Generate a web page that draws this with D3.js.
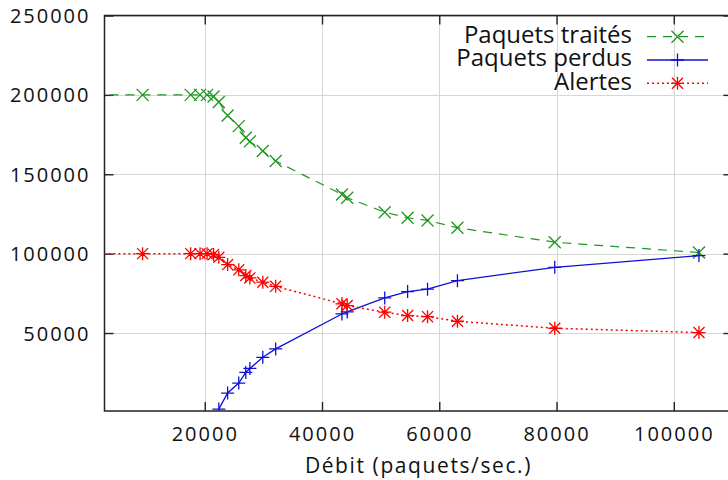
<!DOCTYPE html>
<html>
<head>
<meta charset="utf-8">
<script src="https://cdn.jsdelivr.net/npm/d3@7"></script>
<style>
  html, body { margin: 0; padding: 0; background: #fff; }
  svg { display: block; }
  text { font-family: "Open Sans", "DejaVu Sans", sans-serif; fill: #111; }
</style>
</head>
<body>
<svg id="chart" width="728" height="480"></svg>
<script>
// ---- data ----
const xTicks = [20000, 40000, 60000, 80000, 100000];
const yTicks = [50000, 100000, 150000, 200000, 250000];

const debit = [1000, 9400, 17600, 19200, 20400, 21500, 22400, 23900, 25800, 27000, 27700,
               29900, 32100, 43400, 44300, 50700, 54600, 58000, 63100, 79700, 104300];
const traites = [200000, 200000, 200000, 200000, 200000, 199000, 195500, 187000, 180300, 173000, 170700,
                 164600, 158300, 137300, 135200, 126100, 122600, 120900, 116300, 107200, 100700];
const alertes = [100000, 100000, 100000, 100000, 100000, 99500, 97700, 93100, 89800, 86200, 84700,
                 82000, 79400, 68400, 67300, 63100, 61000, 60300, 57400, 53000, 50300];

const debitPerdus = [22400, 23900, 25800, 27000, 27700, 29900, 32100, 43400, 44300,
                     50700, 54600, 58000, 63100, 79700, 104300];
const perdus = [2100, 12200, 18500, 25200, 27700, 34700, 40000, 62000, 63300,
                72100, 76100, 77600, 83000, 91400, 98800];

const seriesNames = ["Paquets traités", "Paquets perdus", "Alertes"];
const xTitle = "Débit (paquets/sec.)";

// ---- layout ----
const svg = d3.select("#chart");
const L = 104.5, R = 732.4, T = 15.5, B = 411;
const x = d3.scaleLinear().domain([2900, 110000]).range([L, R]);
const y = d3.scaleLinear().domain([0, 250000]).range([412.4, T]);

const colors = { green: "#1f961f", blue: "#1010d2", red: "#ff0000" };

svg.append("defs").append("clipPath").attr("id", "plotclip")
  .append("rect").attr("x", L).attr("y", T).attr("width", R - L).attr("height", B - T);

// grid
const grid = svg.append("g").attr("stroke", "#d6d6d6").attr("stroke-width", 1);
xTicks.forEach(v => {
  const px = Math.round(x(v)) + 0.5;
  grid.append("line").attr("x1", px).attr("x2", px).attr("y1", T).attr("y2", B);
});
yTicks.forEach(v => {
  const py = Math.round(y(v)) + 0.5;
  grid.append("line").attr("x1", L).attr("x2", R).attr("y1", py).attr("y2", py);
});

// axes via d3
const tickLen = 9;
const axB = svg.append("g").attr("transform", `translate(0,${B})`)
  .call(d3.axisBottom(x).tickValues(xTicks).tickSize(-tickLen).tickPadding(0).tickFormat(d3.format("d")));
const axT = svg.append("g").attr("transform", `translate(0,${T})`)
  .call(d3.axisTop(x).tickValues(xTicks).tickSize(-tickLen).tickFormat(""));
const axL = svg.append("g").attr("transform", `translate(${L},0)`)
  .call(d3.axisLeft(y).tickValues(yTicks).tickSize(-tickLen).tickFormat(d3.format("d")));
const axR = svg.append("g").attr("transform", `translate(${R},0)`)
  .call(d3.axisRight(y).tickValues(yTicks).tickSize(-tickLen).tickFormat(""));
[axB, axT, axL, axR].forEach(a => {
  a.select(".domain").remove();
  a.selectAll(".tick line").attr("stroke", "#222").attr("stroke-width", 1.4);
});
axB.selectAll(".tick text")
  .attr("y", 30).attr("dy", null)
  .style("font-family", '"Open Sans", sans-serif').style("font-size", "20px")
  .style("letter-spacing", "2px").attr("fill", "#111");
axL.selectAll(".tick text")
  .attr("x", -14).attr("dy", "7px")
  .style("font-family", '"Open Sans", sans-serif').style("font-size", "20px")
  .style("letter-spacing", "2px").attr("fill", "#111");

// frame
svg.append("rect").attr("x", L).attr("y", T).attr("width", R - L).attr("height", B - T)
  .attr("fill", "none").attr("stroke", "#222").attr("stroke-width", 1.5);

// marker paths
function markX(s) { return `M${-s},${-s}L${s},${s}M${-s},${s}L${s},${-s}`; }
function markPlus(s) { return `M${-s},0L${s},0M0,${-s}L0,${s}`; }
function markStar(s) { return markX(s * 0.85) + markPlus(s); }

const plot = svg.append("g").attr("clip-path", "url(#plotclip)");

function drawSeries(xs, ys, color, dash, width, marker) {
  const pts = xs.map((d, i) => [d, ys[i]]);
  const line = d3.line().x(d => x(d[0])).y(d => y(d[1]));
  plot.append("path").datum(pts).attr("d", line)
    .attr("fill", "none").attr("stroke", color).attr("stroke-width", width)
    .attr("stroke-dasharray", dash);
  plot.selectAll(null).data(pts).enter().append("path")
    .attr("transform", d => `translate(${x(d[0])},${y(d[1])})`)
    .attr("d", marker).attr("fill", "none").attr("stroke", color).attr("stroke-width", 1.3);
}

drawSeries(debit, traites, colors.green, "9,7", 1.2, markX(6));
drawSeries(debitPerdus, perdus, colors.blue, null, 1.3, markPlus(6.5));
drawSeries(debit, alertes, colors.red, "2,3", 1.5, markStar(6.5));

// legend
const legend = svg.append("g");
const legendRows = [
  { name: seriesNames[0], color: colors.green, dash: "9,7", w: 1.2, mark: markX(6) },
  { name: seriesNames[1], color: colors.blue, dash: null, w: 1.3, mark: markPlus(6.5) },
  { name: seriesNames[2], color: colors.red, dash: "2,3", w: 1.5, mark: markStar(6.5) }
];
legendRows.forEach((r, i) => {
  const cy = 36.7 + i * 23.3;
  legend.append("text").attr("x", 632).attr("y", cy + 6.3)
    .attr("text-anchor", "end").style("font-size", "24px").text(r.name);
  legend.append("line").attr("x1", 647).attr("x2", 708).attr("y1", cy).attr("y2", cy)
    .attr("stroke", r.color).attr("stroke-width", r.w).attr("stroke-dasharray", r.dash);
  legend.append("path").attr("transform", `translate(677.5,${cy})`).attr("d", r.mark)
    .attr("fill", "none").attr("stroke", r.color).attr("stroke-width", 1.3);
});

// axis title
svg.append("text").attr("x", (L + R) / 2).attr("y", 473)
  .attr("text-anchor", "middle").style("font-size", "21px").style("letter-spacing", "1.6px")
  .text(xTitle);
</script>
</body>
</html>
